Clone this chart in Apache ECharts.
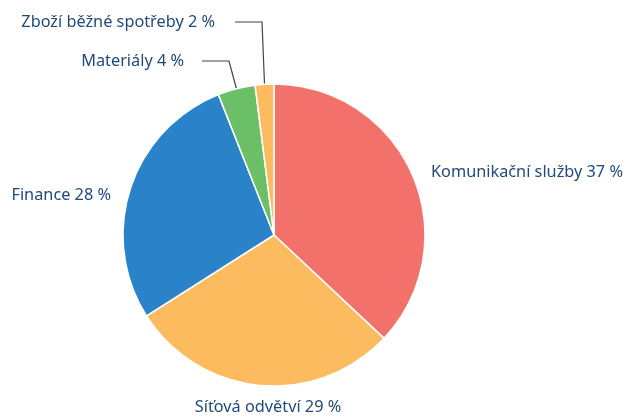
<!DOCTYPE html>
<html><head><meta charset="utf-8">
<script src="https://cdn.jsdelivr.net/npm/echarts@6/dist/echarts.min.js"></script>
<style>html,body{margin:0;padding:0;background:#fff}#c{width:628px;height:416px}</style>
</head><body><div id="c"></div>
<script>
var categories = ['Komunikační služby', 'Síťová odvětví', 'Finance', 'Materiály', 'Zboží běžné spotřeby'];
var values = [37, 29, 28, 4, 2];
var colors = ['#f2716b', '#fdbb60', '#2a83c8', '#6bbf67', '#fdbb60'];

var chart = echarts.init(document.getElementById('c'), null, {renderer: 'canvas'});
var data = categories.map(function (c, i) {
  return {
    name: c, value: values[i],
    itemStyle: {color: colors[i]},
    labelLine: {show: i >= 3}
  };
});
// label anchors (text placement only)
var labelPos = [
  {x: 431, y: 172, align: 'left'},
  {x: 268, y: 407, align: 'center'},
  {x: 111, y: 195, align: 'right'},
  {x: 184, y: 61, align: 'right'},
  {x: 215, y: 22, align: 'right'}
];
var linePts = [null, null, null, [[229, 61], [202, 61]], [[262, 22], [235, 22]]];
chart.setOption({
  animation: false,
  series: [{
    type: 'pie',
    center: [274, 235],
    radius: [0, 151],
    startAngle: 90,
    clockwise: true,
    data: data,
    itemStyle: {borderColor: '#fff', borderWidth: 1.5},
    label: {
      show: true, position: 'outside', overflow: 'none', edgeDistance: 0, bleedMargin: 0,
      formatter: function (p) { return p.name + ' ' + p.value + ' %'; },
      color: '#1f4a7a', fontSize: 16.3, fontFamily: 'Noto Sans'
    },
    labelLine: {lineStyle: {color: '#444', width: 1.2}, length: 10, length2: 10, smooth: false},
    labelLayout: function (p) {
      var lp = labelPos[p.dataIndex];
      var r = {x: lp.x, y: lp.y, align: lp.align, verticalAlign: 'middle'};
      if (linePts[p.dataIndex] && p.labelLinePoints) {
        r.labelLinePoints = [p.labelLinePoints[0], linePts[p.dataIndex][0], linePts[p.dataIndex][1]];
      }
      return r;
    }
  }]
});
</script></body></html>
